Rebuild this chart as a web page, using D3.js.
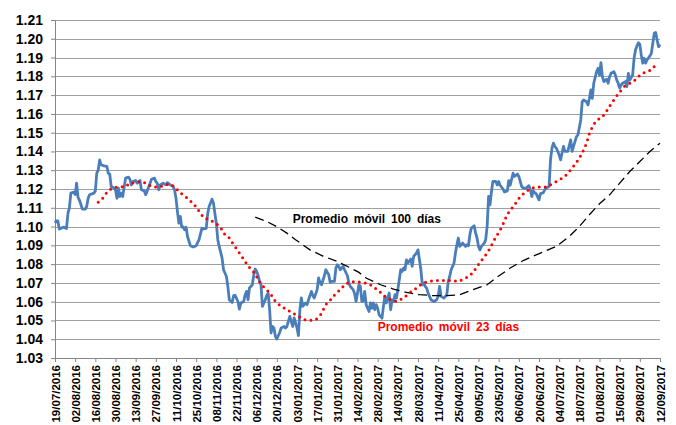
<!DOCTYPE html>
<html lang="es">
<head>
<meta charset="UTF-8">
<title>Promedio móvil</title>
<script src="https://d3js.org/d3.v7.min.js"></script>
<style>
  body { margin: 0; background: #fff; font-family: "Liberation Sans", Arial, sans-serif; }
  .axis text { font-weight: bold; fill: #000; font-family: "Liberation Sans", Arial, sans-serif; }
  .axis path, .axis line { stroke: #868686; }
  .grid line { stroke: #a0a0a0; stroke-width: 1; }
  .nota { font-weight: bold; font-size: 12px; word-spacing: 2.5px; }
</style>
</head>
<body>
<div id="grafico"></div>
<script>
// cotización diaria
const precio = [
  ["2016-07-19",1.102],["2016-07-20",1.103],["2016-07-21",1.103],["2016-07-22",1.0987],["2016-07-25",1.0997],
  ["2016-07-27",1.099],["2016-07-28",1.107],["2016-07-29",1.110],["2016-07-30",1.1178],["2016-08-01",1.1183],
  ["2016-08-02",1.117],["2016-08-03",1.1231],["2016-08-04",1.1155],["2016-08-05",1.114],["2016-08-07",1.1093],
  ["2016-08-09",1.1093],["2016-08-10",1.1107],["2016-08-11",1.115],["2016-08-12",1.1169],["2016-08-15",1.1178],
  ["2016-08-16",1.119],["2016-08-17",1.1284],["2016-08-18",1.130],["2016-08-19",1.1355],["2016-08-20",1.1329],
  ["2016-08-22",1.1323],["2016-08-24",1.132],["2016-08-25",1.1284],["2016-08-26",1.128],["2016-08-27",1.1213],
  ["2016-08-29",1.1205],["2016-08-30",1.1196],["2016-08-31",1.115],["2016-09-01",1.1205],["2016-09-02",1.116],
  ["2016-09-03",1.1178],["2016-09-04",1.116],["2016-09-06",1.1258],["2016-09-08",1.1263],["2016-09-09",1.1252],
  ["2016-09-10",1.1222],["2016-09-11",1.124],["2016-09-13",1.1245],["2016-09-14",1.1231],["2016-09-16",1.1245],
  ["2016-09-17",1.1196],["2016-09-19",1.119],["2016-09-20",1.117],["2016-09-21",1.119],["2016-09-23",1.1231],
  ["2016-09-24",1.1252],["2016-09-26",1.1258],["2016-09-27",1.124],["2016-09-28",1.1231],["2016-09-29",1.1196],
  ["2016-09-30",1.1222],["2016-10-02",1.1231],["2016-10-04",1.1222],["2016-10-05",1.1234],["2016-10-07",1.1222],
  ["2016-10-09",1.1213],["2016-10-10",1.1196],["2016-10-11",1.115],["2016-10-12",1.108],["2016-10-13",1.1018],
  ["2016-10-14",1.1054],["2016-10-15",1.0997],["2016-10-16",1.0998],["2016-10-17",1.0983],["2016-10-18",1.0997],
  ["2016-10-19",1.0947],["2016-10-21",1.0898],["2016-10-23",1.0891],["2016-10-25",1.0898],["2016-10-27",1.093],
  ["2016-10-29",1.0992],["2016-10-30",1.0987],["2016-11-01",1.099],["2016-11-02",1.107],["2016-11-03",1.1107],
  ["2016-11-05",1.1146],["2016-11-06",1.1125],["2016-11-07",1.107],["2016-11-08",1.1018],["2016-11-09",1.093],
  ["2016-11-10",1.0894],["2016-11-12",1.0832],["2016-11-13",1.077],["2016-11-15",1.0734],["2016-11-16",1.0681],
  ["2016-11-17",1.061],["2016-11-19",1.0596],["2016-11-20",1.0632],["2016-11-21",1.0634],["2016-11-23",1.0601],
  ["2016-11-24",1.056],["2016-11-25",1.0593],["2016-11-27",1.0601],["2016-11-28",1.0637],["2016-11-29",1.0655],
  ["2016-11-30",1.061],["2016-12-01",1.0673],["2016-12-03",1.069],["2016-12-04",1.0743],["2016-12-05",1.0774],
  ["2016-12-06",1.0761],["2016-12-07",1.074],["2016-12-08",1.0708],["2016-12-09",1.069],["2016-12-10",1.0575],
  ["2016-12-12",1.061],["2016-12-13",1.0634],["2016-12-14",1.0645],["2016-12-15",1.0557],["2016-12-16",1.0433],
  ["2016-12-17",1.0468],["2016-12-18",1.046],["2016-12-19",1.0415],["2016-12-20",1.0401],["2016-12-22",1.0436],
  ["2016-12-23",1.046],["2016-12-25",1.0468],["2016-12-26",1.046],["2016-12-27",1.0468],["2016-12-29",1.0522],
  ["2016-12-30",1.0495],["2016-12-31",1.0468],["2017-01-01",1.0513],["2017-01-03",1.046],["2017-01-04",1.0419],
  ["2017-01-05",1.0557],["2017-01-06",1.062],["2017-01-07",1.0575],["2017-01-09",1.0593],["2017-01-10",1.0584],
  ["2017-01-11",1.061],["2017-01-13",1.0655],["2017-01-14",1.0632],["2017-01-15",1.062],["2017-01-17",1.0664],
  ["2017-01-18",1.0726],["2017-01-19",1.07],["2017-01-20",1.069],["2017-01-22",1.0738],["2017-01-23",1.077],
  ["2017-01-25",1.0744],["2017-01-26",1.0703],["2017-01-27",1.0708],["2017-01-29",1.0708],["2017-01-30",1.0779],
  ["2017-01-31",1.0797],["2017-02-01",1.0788],["2017-02-02",1.077],["2017-02-04",1.0788],["2017-02-05",1.077],
  ["2017-02-07",1.0738],["2017-02-08",1.07],["2017-02-09",1.0681],["2017-02-11",1.0664],["2017-02-12",1.0642],
  ["2017-02-13",1.0601],["2017-02-15",1.069],["2017-02-16",1.0681],["2017-02-17",1.0601],["2017-02-18",1.0605],
  ["2017-02-19",1.0655],["2017-02-20",1.0584],["2017-02-22",1.0548],["2017-02-23",1.0593],["2017-02-24",1.0565],
  ["2017-02-25",1.0593],["2017-02-26",1.0557],["2017-02-27",1.0584],["2017-02-28",1.0565],["2017-03-01",1.053],
  ["2017-03-03",1.0512],["2017-03-04",1.0575],["2017-03-05",1.0628],["2017-03-06",1.0593],["2017-03-08",1.0646],
  ["2017-03-09",1.0557],["2017-03-10",1.061],["2017-03-11",1.0601],["2017-03-12",1.0637],["2017-03-13",1.0619],
  ["2017-03-14",1.0664],["2017-03-16",1.077],["2017-03-17",1.0761],["2017-03-18",1.0779],["2017-03-19",1.077],
  ["2017-03-20",1.0823],["2017-03-21",1.0806],["2017-03-23",1.0827],["2017-03-24",1.0788],["2017-03-25",1.0841],
  ["2017-03-27",1.0859],["2017-03-28",1.0876],["2017-03-30",1.077],["2017-03-31",1.069],["2017-04-01",1.07],
  ["2017-04-02",1.0681],["2017-04-03",1.0672],["2017-04-04",1.0646],["2017-04-06",1.061],["2017-04-08",1.0601],
  ["2017-04-10",1.061],["2017-04-11",1.0628],["2017-04-12",1.0681],["2017-04-13",1.0628],["2017-04-15",1.0619],
  ["2017-04-17",1.0637],["2017-04-18",1.0708],["2017-04-19",1.0734],["2017-04-20",1.077],["2017-04-22",1.0805],
  ["2017-04-23",1.0859],["2017-04-24",1.0903],["2017-04-25",1.0939],["2017-04-26",1.0894],["2017-04-27",1.0903],
  ["2017-04-28",1.0912],["2017-04-30",1.0894],["2017-05-01",1.0903],["2017-05-02",1.0898],["2017-05-03",1.0956],
  ["2017-05-04",1.0992],["2017-05-06",1.1004],["2017-05-07",1.0965],["2017-05-08",1.0939],["2017-05-09",1.0894],
  ["2017-05-10",1.0876],["2017-05-11",1.0894],["2017-05-13",1.0912],["2017-05-14",1.093],["2017-05-15",1.1001],
  ["2017-05-16",1.116],["2017-05-17",1.1116],["2017-05-18",1.1187],["2017-05-19",1.124],["2017-05-21",1.124],
  ["2017-05-22",1.1222],["2017-05-23",1.124],["2017-05-24",1.122],["2017-05-26",1.12],["2017-05-27",1.1184],
  ["2017-05-29",1.119],["2017-05-30",1.1245],["2017-05-31",1.122],["2017-06-02",1.1284],["2017-06-03",1.1267],
  ["2017-06-05",1.128],["2017-06-06",1.1267],["2017-06-08",1.1213],["2017-06-09",1.1205],["2017-06-11",1.1205],
  ["2017-06-13",1.1218],["2017-06-14",1.1196],["2017-06-15",1.116],["2017-06-16",1.119],["2017-06-17",1.118],
  ["2017-06-18",1.1175],["2017-06-20",1.1142],["2017-06-21",1.1175],["2017-06-23",1.118],["2017-06-24",1.1196],
  ["2017-06-25",1.1205],["2017-06-27",1.1213],["2017-06-28",1.1355],["2017-06-29",1.1418],["2017-06-30",1.1444],
  ["2017-07-01",1.1427],["2017-07-02",1.1418],["2017-07-04",1.1382],["2017-07-05",1.1355],["2017-07-06",1.139],
  ["2017-07-07",1.1427],["2017-07-08",1.14],["2017-07-10",1.14],["2017-07-12",1.1462],["2017-07-13",1.14],
  ["2017-07-14",1.1427],["2017-07-16",1.1479],["2017-07-17",1.1488],["2017-07-19",1.1568],["2017-07-20",1.1665],
  ["2017-07-21",1.1674],["2017-07-23",1.1665],["2017-07-24",1.1648],["2017-07-25",1.1683],["2017-07-26",1.1728],
  ["2017-07-27",1.1683],["2017-07-28",1.1763],["2017-07-30",1.1825],["2017-07-31",1.1843],["2017-08-01",1.1807],
  ["2017-08-02",1.1873],["2017-08-03",1.1798],["2017-08-04",1.1772],["2017-08-06",1.1785],["2017-08-07",1.1763],
  ["2017-08-08",1.1798],["2017-08-09",1.1816],["2017-08-11",1.1825],["2017-08-12",1.1807],["2017-08-13",1.178],
  ["2017-08-14",1.1763],["2017-08-15",1.1737],["2017-08-16",1.1754],["2017-08-17",1.1763],["2017-08-19",1.1772],
  ["2017-08-20",1.1745],["2017-08-21",1.1816],["2017-08-22",1.178],["2017-08-24",1.1807],["2017-08-25",1.1896],
  ["2017-08-26",1.194],["2017-08-27",1.1962],["2017-08-28",1.1979],["2017-08-29",1.197],["2017-08-30",1.1914],
  ["2017-08-31",1.187],["2017-09-01",1.1896],["2017-09-02",1.187],["2017-09-03",1.1887],["2017-09-05",1.1909],
  ["2017-09-06",1.1922],["2017-09-07",1.1976],["2017-09-08",1.2029],["2017-09-09",1.2033],["2017-09-10",1.1994],
  ["2017-09-11",1.1958],["2017-09-12",1.197]
];

// promedio móvil 23 días
const media23 = [
  ["2016-08-18",1.113],["2016-08-21",1.115],["2016-08-23",1.1173],["2016-08-26",1.1196],["2016-08-29",1.1208],
  ["2016-09-02",1.1211],["2016-09-06",1.1213],["2016-09-09",1.1231],["2016-09-13",1.1234],["2016-09-16",1.124],
  ["2016-09-20",1.1231],["2016-09-24",1.1213],["2016-09-28",1.121],["2016-10-02",1.1217],["2016-10-06",1.1226],
  ["2016-10-10",1.1213],["2016-10-12",1.1196],["2016-10-15",1.1174],["2016-10-18",1.1157],["2016-10-21",1.1137],
  ["2016-10-24",1.1114],["2016-10-26",1.1093],["2016-10-28",1.107],["2016-10-30",1.105],["2016-11-03",1.1035],
  ["2016-11-06",1.1025],["2016-11-09",1.1009],["2016-11-12",1.0983],["2016-11-14",1.0956],["2016-11-17",1.0939],
  ["2016-11-20",1.0903],["2016-11-23",1.0871],["2016-11-26",1.0837],["2016-11-29",1.0802],["2016-12-02",1.0773],
  ["2016-12-05",1.0749],["2016-12-07",1.0717],["2016-12-10",1.0685],["2016-12-13",1.0664],["2016-12-16",1.0637],
  ["2016-12-19",1.0601],["2016-12-23",1.0575],["2016-12-27",1.0557],["2016-12-31",1.0539],["2017-01-04",1.0522],
  ["2017-01-08",1.0504],["2017-01-12",1.05],["2017-01-16",1.0504],["2017-01-19",1.0525],["2017-01-21",1.0553],
  ["2017-01-23",1.0584],["2017-01-26",1.0607],["2017-01-28",1.0628],["2017-01-31",1.0649],["2017-02-03",1.0673],
  ["2017-02-06",1.0696],["2017-02-10",1.0706],["2017-02-13",1.0706],["2017-02-18",1.0703],["2017-02-23",1.069],
  ["2017-02-26",1.0673],["2017-03-02",1.0649],["2017-03-05",1.0628],["2017-03-09",1.061],["2017-03-13",1.0601],
  ["2017-03-18",1.062],["2017-03-22",1.0646],["2017-03-27",1.0673],["2017-03-31",1.0696],["2017-04-04",1.0708],
  ["2017-04-10",1.0713],["2017-04-16",1.0713],["2017-04-20",1.0713],["2017-04-25",1.0708],["2017-04-29",1.0721],
  ["2017-05-03",1.0738],["2017-05-06",1.0765],["2017-05-10",1.0809],["2017-05-15",1.0859],["2017-05-17",1.0885],
  ["2017-05-20",1.093],["2017-05-25",1.0995],["2017-05-29",1.1065],["2017-06-03",1.1116],["2017-06-07",1.116],
  ["2017-06-11",1.1187],["2017-06-15",1.1205],["2017-06-20",1.121],["2017-06-25",1.121],["2017-06-30",1.1231],
  ["2017-07-05",1.1252],["2017-07-09",1.1275],["2017-07-13",1.1311],["2017-07-17",1.1352],["2017-07-20",1.1391],
  ["2017-07-23",1.1444],["2017-07-25",1.1497],["2017-07-28",1.1545],["2017-07-31",1.157],["2017-08-03",1.1585],
  ["2017-08-05",1.1604],["2017-08-09",1.1653],["2017-08-13",1.1696],["2017-08-18",1.1745],["2017-08-21",1.1758],
  ["2017-08-25",1.1776],["2017-08-30",1.1813],["2017-09-06",1.1834],["2017-09-09",1.186]
];

// promedio móvil 100 días
const media100 = [
  ["2016-12-05",1.105],["2016-12-13",1.1027],["2016-12-21",1.0995],["2016-12-27",1.0965],["2017-01-02",1.093],
  ["2017-01-12",1.0876],["2017-01-21",1.0843],["2017-01-31",1.0814],["2017-02-09",1.078],["2017-02-15",1.0756],
  ["2017-02-20",1.0726],["2017-03-02",1.069],["2017-03-11",1.0667],["2017-03-20",1.0649],["2017-03-29",1.0637],
  ["2017-04-08",1.0632],["2017-04-17",1.0632],["2017-04-26",1.0637],["2017-05-05",1.0664],["2017-05-15",1.069],
  ["2017-05-22",1.0731],["2017-05-31",1.0779],["2017-06-09",1.0819],["2017-06-21",1.0859],["2017-07-02",1.0894],
  ["2017-07-11",1.0947],["2017-07-18",1.1],["2017-07-25",1.1063],["2017-08-01",1.1121],["2017-08-08",1.1169],
  ["2017-08-15",1.1231],["2017-08-22",1.1293],["2017-08-29",1.1346],["2017-09-05",1.14],["2017-09-12",1.1444]
];

const fechasEje = ["19/07/2016","02/08/2016","16/08/2016","30/08/2016","13/09/2016","27/09/2016","11/10/2016",
  "25/10/2016","08/11/2016","22/11/2016","06/12/2016","20/12/2016","03/01/2017","17/01/2017","31/01/2017",
  "14/02/2017","28/02/2017","14/03/2017","28/03/2017","11/04/2017","25/04/2017","09/05/2017","23/05/2017",
  "06/06/2017","20/06/2017","04/07/2017","18/07/2017","01/08/2017","15/08/2017","29/08/2017","12/09/2017"];

const valoresEje = [1.03,1.04,1.05,1.06,1.07,1.08,1.09,1.10,1.11,1.12,1.13,1.14,1.15,1.16,1.17,1.18,1.19,1.20,1.21];

const width = 676, height = 425;
const margin = { top: 20, right: 16, bottom: 67, left: 55 };

const parseIso = d3.timeParse("%Y-%m-%d");
const parseEje = d3.timeParse("%d/%m/%Y");
const fmtEje = d3.timeFormat("%d/%m/%Y");

const svg = d3.select("#grafico").append("svg")
  .attr("width", width)
  .attr("height", height);

const x = d3.scaleTime()
  .domain([parseEje(fechasEje[0]), parseEje(fechasEje[fechasEje.length - 1])])
  .range([margin.left, width - margin.right]);

const y = d3.scaleLinear()
  .domain([valoresEje[0], valoresEje[valoresEje.length - 1]])
  .range([height - margin.bottom, margin.top]);

// líneas de cuadrícula
svg.append("g").attr("class", "grid")
  .selectAll("line")
  .data(valoresEje.slice(1))
  .enter().append("line")
  .attr("x1", x.range()[0])
  .attr("x2", x.range()[1])
  .attr("y1", d => Math.round(y(d)) + 0.5)
  .attr("y2", d => Math.round(y(d)) + 0.5);

// eje Y
const ejeY = svg.append("g")
  .attr("class", "axis")
  .attr("transform", `translate(${margin.left},0)`)
  .call(d3.axisLeft(y).tickValues(valoresEje).tickSize(4).tickPadding(8).tickFormat(d3.format(".2f")));
ejeY.selectAll("text").style("font-size", "14px");

// eje X
const ejeX = svg.append("g")
  .attr("class", "axis")
  .attr("transform", `translate(0,${height - margin.bottom})`)
  .call(d3.axisBottom(x).tickValues(fechasEje.map(parseEje)).tickSize(4).tickFormat(fmtEje));
ejeX.selectAll("text")
  .style("font-size", "11.5px")
  .attr("text-anchor", "end")
  .attr("transform", "rotate(-90)")
  .attr("x", -7)
  .attr("y", 0)
  .attr("dy", "0.36em");

const linea = d3.line()
  .x(d => x(parseIso(d[0])))
  .y(d => y(d[1]));

svg.append("path")
  .datum(precio)
  .attr("fill", "none")
  .attr("stroke", "#4a7ebb")
  .attr("stroke-width", 2.8)
  .attr("stroke-linejoin", "round")
  .attr("d", linea);

svg.append("path")
  .datum(media100)
  .attr("fill", "none")
  .attr("stroke", "#000")
  .attr("stroke-width", 1.3)
  .attr("stroke-dasharray", "9 5")
  .attr("d", linea);

svg.append("path")
  .datum(media23)
  .attr("fill", "none")
  .attr("stroke", "#ff0000")
  .attr("stroke-width", 3)
  .attr("stroke-linecap", "round")
  .attr("stroke-dasharray", "0 6")
  .attr("d", linea);

// rótulos
svg.append("text")
  .attr("class", "nota")
  .attr("x", x(parseEje("31/12/2016")))
  .attr("y", y(1.102))
  .attr("fill", "#000")
  .text("Promedio móvil 100 días");

svg.append("text")
  .attr("class", "nota")
  .attr("x", x(parseEje("28/02/2017")))
  .attr("y", y(1.0444))
  .attr("fill", "#ff0000")
  .text("Promedio móvil 23 días");
</script>
</body>
</html>
